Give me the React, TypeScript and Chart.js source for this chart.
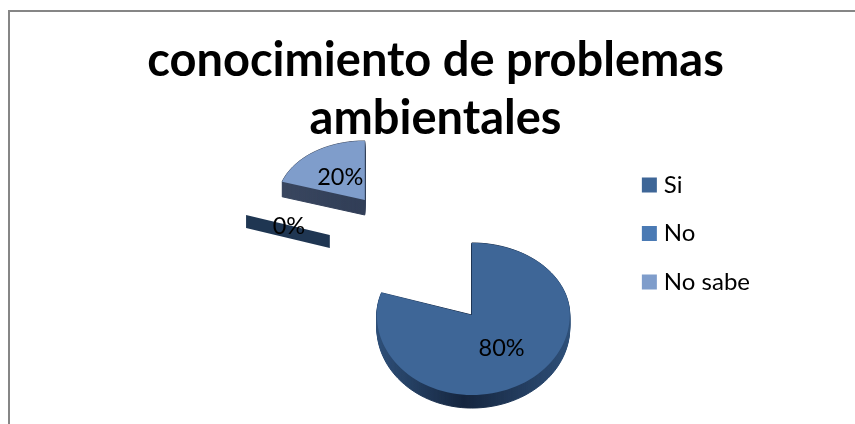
import React, { useEffect, useRef } from "react";
import { Chart, registerables } from "chart.js";

Chart.register(...registerables);

const categories = ["Si", "No", "No sabe"];
const shares = [80, 0, 20];
const topColors = ["#3E6697", "#4A7AB4", "#7F9DCB"];
const titleLines = ["conocimiento de problemas", "ambientales"];

const FONT = "Lato, Carlito, 'Open Sans', sans-serif";

// 3-D look of each slice: explosion offset from the pie centre (px), tilt of the
// radius (fractions of the chart's own outerRadius), extrusion depth (px) and side shades.
const tilt = [
  { dx: 105.1, dy: 29, rxL: 0.688, rxR: 0.71, ryUp: 0.522, ryDown: 0.58, depth: 13, side: ["#2F5079", "#16263F", "#2F5079"] },
  { dx: -36.9, dy: -51, rxL: 0.638, rxR: 0.638, ryUp: 0.471, ryDown: 0.471, depth: 13, side: ["#1F3652", "#1F3652", "#1F3652"] },
  { dx: -1.9, dy: -86, rxL: 0.63, rxR: 0.63, ryUp: 0.428, ryDown: 0.428, depth: 15, side: ["#3A4760", "#323F58", "#323F58"] },
];
const drawOrder = [2, 1, 0];

function placed(arc: any, i: number) {
  const t = tilt[i];
  const r = arc.outerRadius;
  return {
    x: arc.x + t.dx,
    y: arc.y + t.dy,
    rxL: t.rxL * r,
    rxR: t.rxR * r,
    ryUp: t.ryUp * r,
    ryDown: t.ryDown * r,
    depth: t.depth,
    side: t.side,
  };
}

function project(p: any, a: number, f = 1) {
  const c = Math.cos(a), s = Math.sin(a);
  return { x: p.x + (c < 0 ? p.rxL : p.rxR) * c * f, y: p.y + (s < 0 ? p.ryUp : p.ryDown) * s * f };
}

function slicePath(ctx: CanvasRenderingContext2D, p: any, arc: any, dy: number) {
  ctx.beginPath();
  ctx.moveTo(p.x, p.y + dy);
  const steps = 96;
  for (let i = 0; i <= steps; i++) {
    const a = arc.startAngle + ((arc.endAngle - arc.startAngle) * i) / steps;
    const q = project(p, a);
    ctx.lineTo(q.x, q.y + dy);
  }
  ctx.closePath();
}

const tiltedPie = {
  id: "tiltedPie",
  beforeDatasetsDraw(chart: any) {
    const ctx: CanvasRenderingContext2D = chart.ctx;
    const arcs = chart.getDatasetMeta(0).data;
    ctx.save();
    ctx.filter = "blur(0.5px)";
    ctx.lineJoin = "round";
    for (const i of drawOrder) {
      const arc = arcs[i];
      const p = placed(arc, i);
      const g = ctx.createLinearGradient(p.x - p.rxL, 0, p.x + p.rxR, 0);
      g.addColorStop(0, p.side[0]);
      g.addColorStop(0.45, p.side[1]);
      g.addColorStop(1, p.side[2]);
      ctx.fillStyle = g;
      ctx.strokeStyle = g;
      ctx.lineWidth = 1;
      if (arc.endAngle > arc.startAngle) {
        for (let d = p.depth; d >= 0; d--) {
          slicePath(ctx, p, arc, d);
          ctx.fill();
          ctx.stroke();
        }
        slicePath(ctx, p, arc, 0);
        ctx.fillStyle = topColors[i];
        ctx.fill();
      } else {
        const q = project(p, arc.startAngle);
        ctx.beginPath();
        ctx.moveTo(p.x, p.y);
        ctx.lineTo(q.x, q.y);
        ctx.lineTo(q.x, q.y + p.depth);
        ctx.lineTo(p.x, p.y + p.depth);
        ctx.closePath();
        ctx.fill();
      }
    }
    ctx.restore();
    return false;
  },
  afterDraw(chart: any) {
    const ctx: CanvasRenderingContext2D = chart.ctx;
    const arcs = chart.getDatasetMeta(0).data;
    ctx.save();
    ctx.font = `23.5px ${FONT}`;
    ctx.fillStyle = "#000";
    ctx.textAlign = "center";
    ctx.textBaseline = "middle";
    arcs.forEach((arc: any, i: number) => {
      const q = project(placed(arc, i), (arc.startAngle + arc.endAngle) / 2, 0.5);
      ctx.fillText(`${shares[i]}%`, q.x + 1, q.y + 1);
    });
    ctx.restore();
  },
};

const frame = {
  id: "frame",
  beforeDraw(chart: any) {
    const ctx: CanvasRenderingContext2D = chart.ctx;
    ctx.save();
    ctx.fillStyle = "#fff";
    ctx.fillRect(0, 0, chart.width, chart.height);
    ctx.strokeStyle = "#868686";
    ctx.lineWidth = 2;
    ctx.beginPath();
    ctx.moveTo(9, chart.height + 5);
    ctx.lineTo(9, 11);
    ctx.lineTo(chart.width + 5, 11);
    ctx.stroke();
    ctx.restore();
  },
};

export default function App() {
  const ref = useRef<HTMLCanvasElement>(null);
  useEffect(() => {
    const chart = new Chart(ref.current!, {
      type: "pie",
      data: {
        labels: categories,
        datasets: [{ data: shares, backgroundColor: topColors, borderWidth: 0 }],
      },
      options: {
        responsive: false,
        animation: false,
        events: [],
        layout: { padding: { top: 43, right: 95, bottom: 0, left: 111 } },
        plugins: {
          title: {
            display: true,
            text: titleLines,
            color: "#000",
            font: { family: FONT, size: 47, weight: "bold", lineHeight: 1.234 },
            padding: { top: -11, bottom: 0 },
          },
          legend: {
            position: "right",
            labels: {
              color: "#000",
              font: { family: FONT, size: 24 },
              usePointStyle: true,
              pointStyle: "rect",
              boxWidth: 5,
              boxHeight: 15,
              padding: 24.5,
            },
          },
          tooltip: { enabled: false },
        },
      } as any,
      plugins: [frame, tiltedPie] as any,
    });
    return () => chart.destroy();
  }, []);
  return (
    <div style={{ position: "fixed", left: 0, top: 0, width: 855, height: 424, overflow: "hidden" }}>
      <canvas ref={ref} width={855} height={424} style={{ display: "block" }} />
    </div>
  );
}
